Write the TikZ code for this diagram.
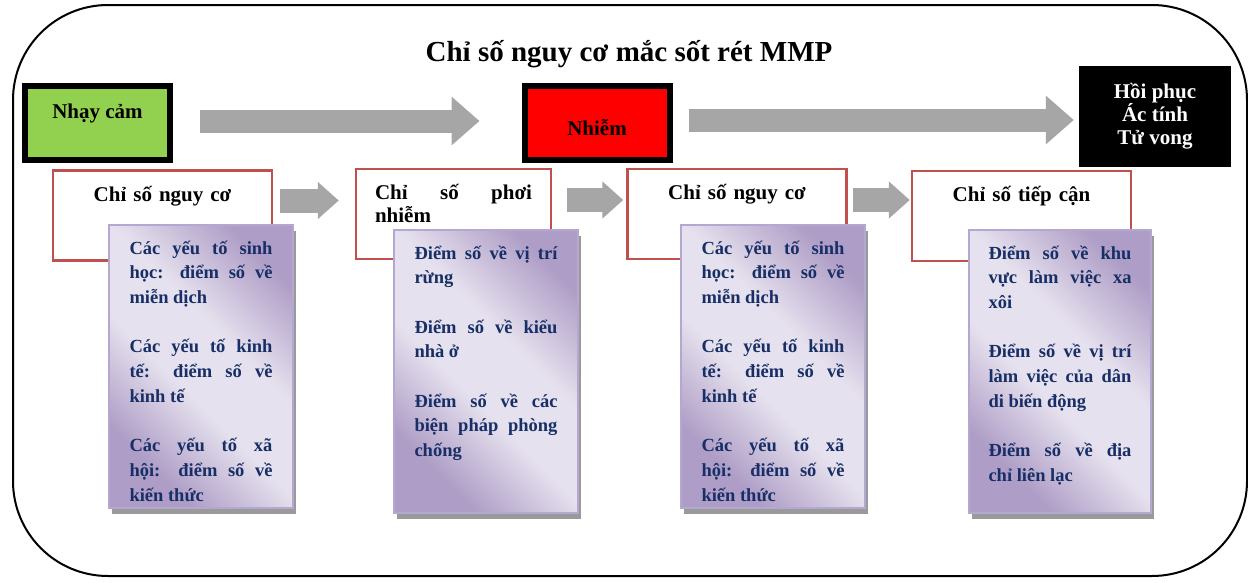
\documentclass[tikz,border=0pt]{standalone}
\usepackage{fontspec}
\setmainfont{Liberation Serif}
\usetikzlibrary{arrows.meta,positioning,shadows}
\definecolor{GrassGreen}{HTML}{92D050}
\definecolor{AlertRed}{HTML}{FF0000}
\definecolor{ArrowGray}{HTML}{A6A6A6}
\definecolor{BrickRed}{HTML}{C0504D}
\definecolor{LavDark}{HTML}{AE9DC6}
\definecolor{LavLight}{HTML}{E6E1EE}
\definecolor{LavEdge}{HTML}{B5A8D0}
\definecolor{NavyText}{HTML}{172F66}
\definecolor{ShadowGray}{HTML}{9A9A9A}
\pgfdeclarehorizontalshading{lavender}{100bp}{color(0bp)=(LavDark); color(27bp)=(LavDark); color(44bp)=(LavLight); color(58bp)=(LavLight); color(76bp)=(LavDark); color(100bp)=(LavDark)}
\newcommand{\notegap}{\par\vspace{24.7pt}}
\hyphenpenalty=10000

\begin{document}
\begin{tikzpicture}[
    x=1pt, y=-1pt,
    font=\bfseries\fontsize{21}{23}\selectfont,
    stage/.style={rectangle, draw=black, line width=6pt, minimum width=145pt, minimum height=74pt, align=center},
    outcome/.style={rectangle, fill=black, text=white, minimum width=152pt, minimum height=101pt, align=center},
    index/.style={rectangle, draw=BrickRed, line width=2.5pt, fill=white, minimum width=219pt, minimum height=90pt, text width=180pt, align=center, text height=15pt, text depth=44pt},
    note/.style={rectangle, anchor=north west, shading=lavender, shading angle=45, draw=LavEdge, line width=2pt,
        drop shadow={shadow xshift=3pt, shadow yshift=-6pt, fill=ShadowGray, opacity=1},
        minimum width=184pt, minimum height=283pt, inner sep=0pt, text width=143pt, text height=29pt, text depth=254pt,
        align=justify, text=NavyText, font=\bfseries\fontsize{18.5}{24.7}\selectfont},
    bigarrow/.style={draw=ArrowGray, line width=23pt, -{Triangle[length=28pt,width=47pt]}},
    smallarrow/.style={draw=ArrowGray, line width=24pt, -{Triangle[length=21pt,width=36pt]}}
]
\useasboundingbox (0,0) rectangle (1248,582);
\draw[line width=2pt, rounded corners=95pt] (13,5) rectangle (1247,576);

\node[anchor=base, font=\bfseries\fontsize{29}{34}\selectfont] (title) at (629,61) {Chỉ số nguy cơ mắc sốt rét MMP};

% top row
\node[stage, fill=GrassGreen, text height=14pt, text depth=24pt] (sus) at (97.5,123) {Nhạy cảm};
\node[stage, fill=AlertRed, text height=29pt, text depth=5pt] (inf) at (597,123) {Nhiễm};
\node[outcome] (end) at (1155,116.5) {Hồi phục\\Ác tính\\Tử vong};

\draw[bigarrow, shorten <=27pt, shorten >=42pt] ([yshift=2pt]sus.east) -- ([yshift=2pt]inf.west);
\draw[bigarrow, shorten <=16pt, shorten >=5pt] ([yshift=3pt]inf.east) -- ([yshift=3pt]inf.east -| end.west);

% index boxes
\node[index] (risk1) at (162.5,215.5) {Chỉ số nguy cơ};
\node[index, minimum width=195pt, text width=157pt, align=justify] (expo) at (453.5,214) {Chỉ số phơi\linebreak nhiễm};
\node[index] (risk2) at (737,214) {Chỉ số nguy cơ};
\node[index] (access) at (1021.5,216) {Chỉ số tiếp cận};

\draw[smallarrow, shorten <=7pt, shorten >=16pt] ([yshift=15pt]risk1.east) -- ([yshift=15pt]risk1.east -| expo.west);
\draw[smallarrow, shorten <=15pt, shorten >=3pt] ([yshift=14pt]expo.east) -- ([yshift=14pt]expo.east -| risk2.west);
\draw[smallarrow, shorten <=5pt, shorten >=1pt] ([yshift=14pt]risk2.east) -- ([yshift=14pt]risk2.east -| access.west);

% factor notes
\node[note] (bio1) at (108,224) {Các yếu tố sinh\linebreak học: điểm số về\linebreak miễn dịch\notegap
Các yếu tố kinh\linebreak tế: điểm số về\linebreak kinh tế\notegap
Các yếu tố xã\linebreak hội: điểm số về\linebreak kiến thức};
\node[note] (place) at (393,229) {Điểm số về vị trí\linebreak rừng\notegap
Điểm số về kiểu\linebreak nhà ở\notegap
Điểm số về các\linebreak biện pháp phòng\linebreak chống};
\node[note] (bio2) at (680,224) {Các yếu tố sinh\linebreak học: điểm số về\linebreak miễn dịch\notegap
Các yếu tố kinh\linebreak tế: điểm số về\linebreak kinh tế\notegap
Các yếu tố xã\linebreak hội: điểm số về\linebreak kiến thức};
\node[note, minimum width=182pt] (work) at (968,229) {Điểm số về khu\linebreak vực làm việc xa\linebreak xôi\notegap
Điểm số về vị trí\linebreak làm việc của dân\linebreak di biến động\notegap
Điểm số về địa\linebreak chỉ liên lạc};
\end{tikzpicture}
\end{document}
